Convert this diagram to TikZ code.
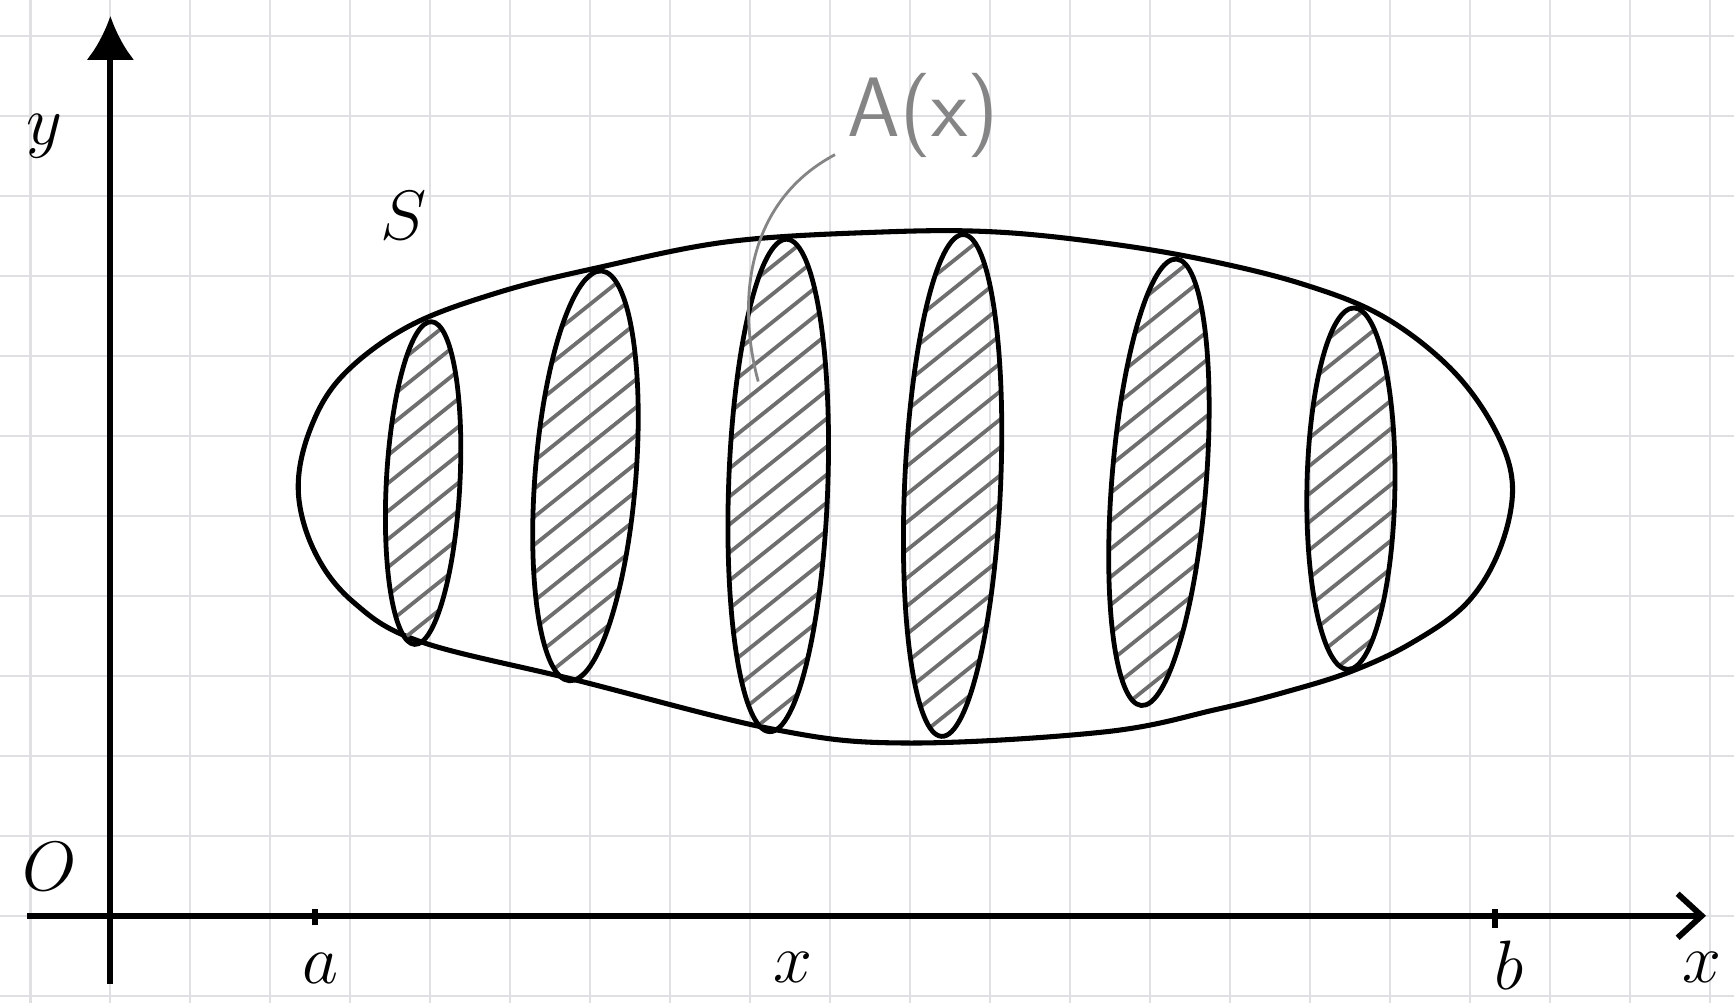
\documentclass[tikz,border=0pt]{standalone}
\usepackage{tikz}
\usetikzlibrary{arrows.meta, calc}
\definecolor{gridgray}{HTML}{DEE0E3}
\definecolor{hatchgray}{HTML}{6E6E6E}
\definecolor{leadgray}{HTML}{858585}

\begin{document}
\begin{tikzpicture}[
  gridline/.style={gridgray, line width=0.8pt},
  axis/.style={line width=2.1pt, black},
  outline/.style={line width=1.8pt, black, line join=round},
  slicebox/.style={line width=1.7pt, black},
  hatch/.style={hatchgray, line width=1.35pt, line cap=round},
  lbl/.style={font=\fontsize{34}{40}\selectfont, inner sep=0pt},
  grlbl/.style={font=\fontsize{30}{36}\selectfont\sffamily, text=leadgray, inner sep=0pt}
]
\useasboundingbox (-1.38,-1.09) rectangle (20.3,11.45);
\fill[white] (-1.38,-1.09) rectangle (20.3,11.45);
\draw[gridline] (-1.38,-1.09) grid (20.3,11.45);

% axes
\coordinate (xstart) at (-1.04,0);
\coordinate (xend)   at (19.95,0);
\coordinate (ystart) at (0,-0.85);
\coordinate (yend)   at (0,11.25);
\draw[axis, -{Latex[length=0.55cm, width=0.6cm]}] (ystart) -- (yend);
\draw[axis, -{Straight Barb[length=0.3cm, width=0.55cm]}] (xstart) -- (xend);
\draw[axis] (2.56,-0.12) -- (2.56,0.08);
\draw[axis] (17.31,-0.15) -- (17.31,0.08);

% solid S
\draw[outline] plot[smooth cycle, tension=0.6] coordinates {
  (17.53,5.38) (17.37,4.58) (16.95,3.90) (16.25,3.40) (15.50,3.05)
  (14.70,2.80) (13.83,2.58) (12.44,2.30) (9.95,2.16) (8.30,2.33)
  (5.81,2.95) (3.87,3.43) (3.04,3.92) (2.56,4.54) (2.35,5.30)
  (2.49,6.06) (2.90,6.75) (3.73,7.37) (4.84,7.79) (6.08,8.10)
  (7.74,8.43) (9.68,8.55) (11.06,8.55) (12.44,8.41) (13.69,8.20)
  (14.90,7.90) (15.90,7.50) (16.75,6.85) (17.30,6.10)};

% cross sections
\foreach \cx/\cy/\rx/\ry/\rot in {
  3.91/5.41/0.46/2.02/-3, 5.94/5.50/0.63/2.57/-4.5,
  8.35/5.38/0.62/3.08/-2, 10.53/5.38/0.60/3.14/-2.5,
  13.11/5.42/0.59/2.80/-4.5, 15.51/5.34/0.55/2.26/-1} {
  \begin{scope}
    \clip[rotate around={\rot:(\cx,\cy)}] (\cx,\cy) ellipse (\rx cm and \ry cm);
    \foreach \k in {-16,...,16}
      \draw[hatch] ($(\cx,\cy)+(-1.5,\k*0.35-1.2)$) -- ++(3,2.4);
  \end{scope}
  \draw[slicebox, rotate around={\rot:(\cx,\cy)}] (\cx,\cy) ellipse (\rx cm and \ry cm);
}

% labels
\node[lbl] (ylab) at (-0.83,9.75) {$y$};
\node[lbl] (olab) at (-0.76,0.62) {$O$};
\node[lbl] (slab) at (3.66,8.75) {$S$};
\node[lbl] (alab) at (2.63,-0.66) {$a$};
\node[lbl] (xmid) at (8.54,-0.64) {$x$};
\node[lbl] (blab) at (17.49,-0.62) {$b$};
\node[lbl] (xlab) at (19.9,-0.64) {$x$};
\node[grlbl] (area) at (10.16,10.0) {A(x)};
\coordinate (areatip) at (8.1,6.68);
\draw[leadgray, line width=1pt] ($(area.south west)+(-0.15,0.05)$)
  .. controls (7.9,8.9) and (7.85,7.6) .. (areatip);
\end{tikzpicture}
\end{document}
